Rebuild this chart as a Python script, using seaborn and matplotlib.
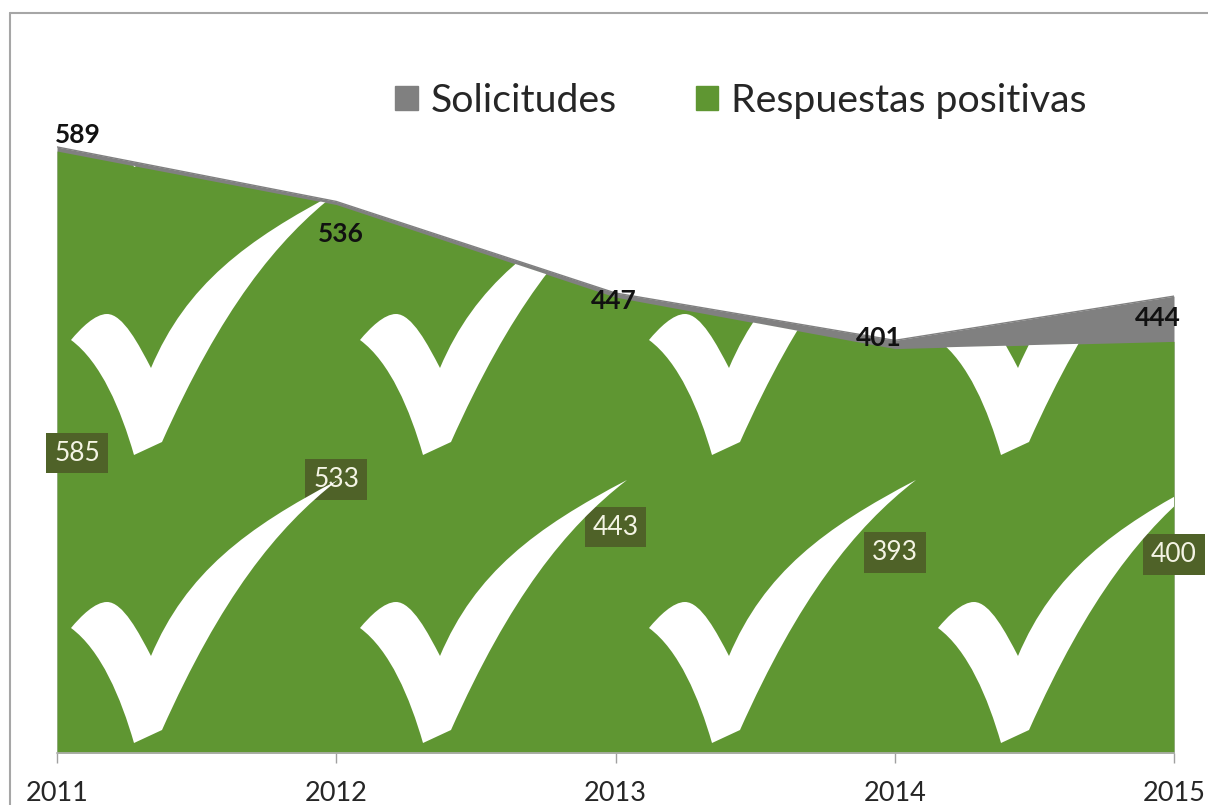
import matplotlib
matplotlib.use('Agg')
import matplotlib.pyplot as plt
import seaborn as sns
from matplotlib.lines import Line2D
from matplotlib.patches import PathPatch, Patch
from matplotlib.path import Path
from matplotlib.transforms import Affine2D

years = [2011, 2012, 2013, 2014, 2015]
solicitudes = [589, 536, 447, 401, 444]
respuestas = [585, 533, 443, 393, 400]

# label offsets from the anchor point, in pixels
sol_offsets = [(21, 12), (5, -33), (-2, -8), (-16, 2), (-16, -22)]
resp_offsets = [(20, -1), (0, -1), (0, -2), (0, -2), (0, -7)]

GRAY = '#808080'
GREEN = '#5f9632'
DARK = '#4f6228'

W, H = 1208, 805
LEFT, RIGHT, BASE, TOP = 57, 1174, 753, 13

# check mark outline relative to its left corner, pixels, y down
check_verts = [(0, 0),
               (10, -12), (24, -26), (36, -26),
               (52, -26), (68, 5), (80, 28),
               (115, -55), (175, -100), (267, -148),
               (205, -100), (150, -30), (91, 102),
               (63, 115),
               (50, 70), (30, 22), (0, 0)]
check_codes = [Path.MOVETO] + [Path.CURVE4] * 12 + [Path.LINETO] + [Path.CURVE4] * 3
check_cols = [71, 360, 649, 938]
check_rows = [52, 340, 628]

sns.set_theme(style='white')
plt.rcParams['font.family'] = ['Lato', 'DejaVu Sans']

fig = plt.figure(figsize=(W / 100, H / 100), dpi=100)
ax = fig.add_axes([LEFT / W, (H - BASE) / H, (RIGHT - LEFT) / W, (BASE - TOP) / H])

ax.fill_between(years, solicitudes, color=GRAY, lw=0, label='Solicitudes', zorder=1)
sns.lineplot(x=years, y=solicitudes, color=GRAY, lw=1, ax=ax, zorder=1.5, legend=False)
area = ax.fill_between(years, respuestas, color=GREEN, lw=0, label='Respuestas positivas', zorder=2)

# white check marks tiled over the green area only
to_display = Affine2D().scale(1, -1).translate(0, H)
for cx in check_cols:
    for cy in check_rows:
        pts = [(cx + dx, cy + dy) for dx, dy in check_verts]
        p = PathPatch(Path(pts, check_codes), fc='white', ec='none', transform=to_display, zorder=3)
        fig.add_artist(p)
        p.set_clip_path(area.get_paths()[0], area.get_transform())

ax.set_xlim(years[0], years[-1])
ax.set_ylim(0, (BASE - TOP) / 1.029)
ax.set_xticks(years)
ax.set_yticks([])
ax.set_xlabel('')
ax.set_ylabel('')
ax.patch.set_alpha(0)
sns.despine(ax=ax, left=True, top=True, right=True)
ax.spines['bottom'].set_color('#b0b0b0')
ax.spines['bottom'].set_linewidth(1.2)
ax.tick_params(axis='x', bottom=True, length=7, width=1, color='#a0a0a0',
               labelsize=19.5, labelcolor='#262626', pad=13)

for x, y, off in zip(years, solicitudes, sol_offsets):
    ax.annotate(str(y), (x, y), xytext=off, textcoords='offset pixels', ha='center', va='center',
                fontsize=19, fontweight='bold', color='#111111', zorder=6)

for x, y, off in zip(years, respuestas, resp_offsets):
    ax.annotate(str(y), (x, y / 2), xytext=off, textcoords='offset pixels', ha='center', va='center',
                fontsize=19, color='#f4f4e4', zorder=6,
                bbox=dict(boxstyle='square,pad=0.3', fc=DARK, ec='none'))

handles = [Patch(color=GRAY), Patch(color=GREEN)]
ax.legend(handles, ['Solicitudes', 'Respuestas positivas'], ncol=2, frameon=False,
          loc='center', bbox_to_anchor=(741 / W, 1 - 101 / H), bbox_transform=fig.transFigure,
          fontsize=28.3, labelcolor='#262626', handlelength=0.58, handleheight=0.58,
          handletextpad=0.33, columnspacing=2.0)

# outer chart frame, only top and left show
frame = '#a6a6a6'
fig.add_artist(Line2D([10 / W, 10 / W], [0, 1 - TOP / H], color=frame, lw=1.5))
fig.add_artist(Line2D([10 / W, 1], [1 - TOP / H, 1 - TOP / H], color=frame, lw=1.5))

fig.savefig('out.png', dpi=100)
